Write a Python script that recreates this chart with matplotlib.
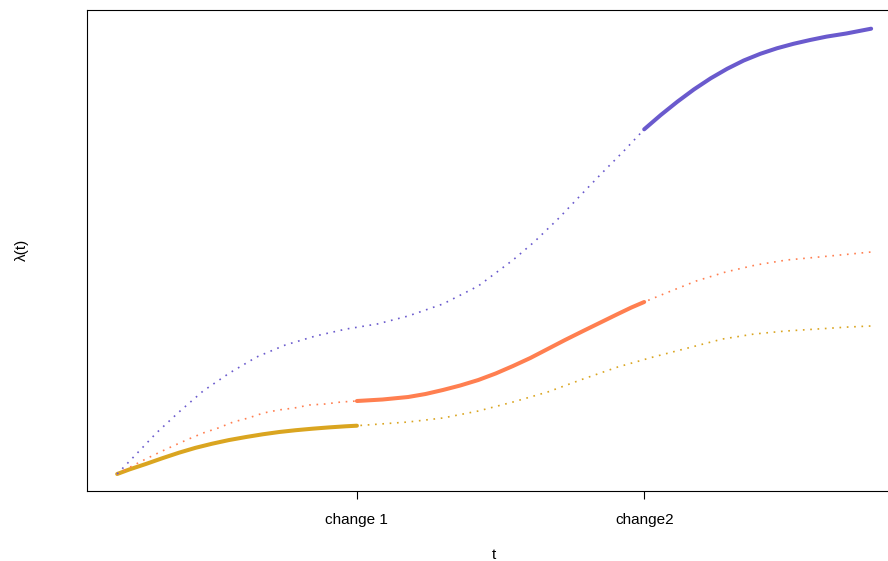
import matplotlib
matplotlib.use("Agg")
import matplotlib.pyplot as plt
import numpy as np

plt.rcParams['font.family'] = ['Liberation Sans', 'DejaVu Sans']

# change points on the time axis
change_t = [3.18, 6.99]
change_labels = ["change 1", "change2"]

# intensity curves, sampled along t
t_gold = [0, 0.16, 0.38, 0.60, 0.82, 1.04, 1.26, 1.48, 1.71, 1.93, 2.15, 2.37,
          2.59, 2.81, 3.03, 3.18, 3.86, 4.32, 4.79, 5.25, 5.71, 6.18, 6.64,
          7.11, 7.57, 8.03, 8.45, 8.87, 9.29, 9.70, 10.0]
lam_gold = [0, 0.045, 0.100, 0.158, 0.213, 0.262, 0.303, 0.339, 0.370, 0.397,
            0.420, 0.438, 0.453, 0.466, 0.477, 0.483, 0.52, 0.56, 0.63, 0.72,
            0.82, 0.95, 1.07, 1.17, 1.26, 1.35, 1.40, 1.43, 1.45, 1.47, 1.48]

t_coral = [0, 0.20, 0.38, 0.57, 0.77, 0.95, 1.14, 1.34, 1.54, 1.74, 1.94, 2.14,
           2.35, 2.55, 2.76, 2.97, 3.18, 3.52, 3.86, 4.09, 4.32, 4.55, 4.79,
           5.02, 5.25, 5.48, 5.71, 5.94, 6.18, 6.41, 6.64, 6.82, 6.99, 7.28,
           7.68, 8.07, 8.47, 8.88, 9.31, 9.73, 10.0]
lam_coral = [0, 0.08, 0.15, 0.22, 0.29, 0.35, 0.41, 0.46, 0.52, 0.56, 0.61, 0.64,
             0.66, 0.69, 0.70, 0.72, 0.73, 0.745, 0.77, 0.80, 0.84, 0.885, 0.94,
             1.005, 1.08, 1.16, 1.25, 1.34, 1.43, 1.515, 1.60, 1.665, 1.72, 1.81,
             1.93, 2.02, 2.09, 2.14, 2.17, 2.20, 2.22]

t_blue = [0, 0.23, 0.52, 0.82, 1.14, 1.49, 1.85, 2.23, 2.63, 3.04, 3.45, 3.86,
          4.32, 4.79, 5.25, 5.53, 5.86, 6.15, 6.43, 6.72, 6.99, 7.21, 7.43,
          7.65, 7.87, 8.09, 8.31, 8.53, 8.75, 8.97, 9.19, 9.41, 9.67, 10.0]
lam_blue = [0, 0.18, 0.41, 0.62, 0.83, 1.01, 1.17, 1.29, 1.38, 1.45, 1.50, 1.58,
            1.70, 1.88, 2.14, 2.32, 2.56, 2.79, 3.01, 3.23, 3.447, 3.590, 3.723,
            3.846, 3.956, 4.052, 4.135, 4.202, 4.257, 4.302, 4.340, 4.374,
            4.405, 4.453]

# each regime is drawn solid on its own interval
series = [
    (t_gold, lam_gold, "#DAA520", (0.0, change_t[0])),
    (t_coral, lam_coral, "#FF7F50", (change_t[0], change_t[1])),
    (t_blue, lam_blue, "#6A5ACD", (change_t[1], 10.0)),
]

fig = plt.figure(figsize=(8.88, 5.61), dpi=100)
ax = fig.add_axes([87 / 888, 1 - 490.5 / 561, 814.3 / 888, 480.5 / 561])

for t, lam, col, (lo, hi) in series:
    t = np.asarray(t)
    lam = np.asarray(lam)
    ax.plot(t, lam, color=col, lw=1.2, linestyle=(0, (1, 3.4)))
    m = (t >= lo - 1e-9) & (t <= hi + 1e-9)
    ax.plot(t[m], lam[m], color=col, lw=2.9, solid_capstyle='round',
            solid_joinstyle='round')

ax.set_xlim(-0.4, 10.4)
ax.set_ylim(-0.165, 4.64)

ax.set_xticks(change_t)
ax.set_xticklabels(change_labels, fontsize=11)
ax.set_yticks([])
ax.tick_params(axis='x', direction='out', length=6, width=0.8, pad=10)
for s in ax.spines.values():
    s.set_linewidth(0.8)
    s.set_color('black')

fig.text(494 / 888, 1 - 555 / 561, "t", ha='center', va='center', fontsize=11)
fig.text(22 / 888, 1 - 250 / 561, "λ(t)", ha='center', va='center',
         rotation=90, fontsize=11)

fig.savefig("out.png", dpi=100)
